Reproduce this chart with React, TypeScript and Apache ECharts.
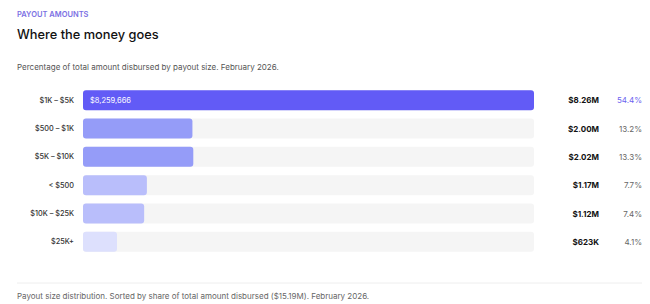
import React, { useEffect, useRef } from "react";
import * as echarts from "echarts";

const categories = ["$1K – $5K", "$500 – $1K", "$5K – $10K", "< $500", "$10K – $25K", "$25K+"];
const amounts = [8259666, 2004000, 2020000, 1170000, 1120000, 623000];
const amountLabels = ["$8.26M", "$2.00M", "$2.02M", "$1.17M", "$1.12M", "$623K"];
const shareLabels = ["54.4%", "13.2%", "13.3%", "7.7%", "7.4%", "4.1%"];
const barColors = ["#625BF6", "#959CF8", "#959CF8", "#B9BEFB", "#B9BEFB", "#DDE0FD"];

const FONT = "Inter, 'Noto Sans', sans-serif";

export default function App() {
  const ref = useRef<HTMLDivElement>(null);
  useEffect(() => {
    if (!ref.current) return;
    const chart = echarts.init(ref.current, null, { renderer: "svg" });
    const maxVal = Math.max(...amounts);
    chart.setOption({
      animation: false,
      backgroundColor: "#ffffff",
      textStyle: { fontFamily: FONT },
      title: [
        {
          text: "PAYOUT AMOUNTS",
          left: 17,
          top: 10,
          padding: 0,
          textStyle: { fontSize: 7.5, fontWeight: 600, color: "#7B6FE3", fontFamily: FONT },
        },
        {
          text: "Where the money goes",
          left: 17,
          top: 28,
          padding: 0,
          textStyle: { fontSize: 12.8, fontWeight: 500, color: "#111111", fontFamily: FONT },
        },
        {
          text: "Percentage of total amount disbursed by payout size. February 2026.",
          left: 17,
          top: 63,
          padding: 0,
          textStyle: { fontSize: 8, fontWeight: 400, color: "#555555", fontFamily: FONT },
        },
        {
          text: "Payout size distribution. Sorted by share of total amount disbursed ($15.19M). February 2026.",
          left: 17,
          top: 292,
          padding: 0,
          textStyle: { fontSize: 8, fontWeight: 400, color: "#666666", fontFamily: FONT },
        },
      ],
      graphic: [
        {
          type: "line",
          shape: { x1: 17, y1: 283, x2: 642, y2: 283 },
          style: { stroke: "#EEEEEE", lineWidth: 1 },
        },
      ],
      grid: { left: 83, right: 116, top: 86, height: 170 },
      xAxis: { type: "value", min: 0, max: maxVal, show: false },
      yAxis: [
        {
          type: "category",
          data: categories,
          inverse: true,
          axisLine: { show: false },
          axisTick: { show: false },
          axisLabel: { margin: 9, fontSize: 7.3, fontWeight: 500, color: "#333333", fontFamily: FONT },
        },
        {
          type: "category",
          data: amountLabels,
          inverse: true,
          position: "right",
          axisLine: { show: false },
          axisTick: { show: false },
          axisLabel: {
            margin: 65,
            align: "right",
            fontSize: 8,
            fontWeight: 700,
            color: "#111111",
            fontFamily: FONT,
          },
        },
        {
          type: "category",
          data: shareLabels,
          inverse: true,
          position: "right",
          axisLine: { show: false },
          axisTick: { show: false },
          axisLabel: {
            margin: 108,
            align: "right",
            fontFamily: FONT,
            formatter: (v: string, i: number) => (i === 0 ? `{a|${v}}` : `{b|${v}}`),
            rich: {
              a: { fontSize: 8, color: "#6C63F0", fontFamily: FONT },
              b: { fontSize: 8, color: "#666666", fontFamily: FONT },
            },
          },
        },
      ],
      series: [
        {
          type: "bar",
          yAxisIndex: 0,
          barWidth: 20,
          showBackground: true,
          backgroundStyle: { color: "#F5F5F5", borderRadius: 3 },
          data: amounts.map((v, i) => ({
            value: v,
            itemStyle: { color: barColors[i], borderRadius: 3 },
            label:
              i === 0
                ? {
                    show: true,
                    position: "insideLeft",
                    distance: 7,
                    formatter: "$" + v.toLocaleString("en-US"),
                    color: "#ffffff",
                    fontSize: 7.5,
                    fontFamily: FONT,
                  }
                : { show: false },
          })),
        },
      ],
    });
    return () => chart.dispose();
  }, []);
  return (
    <div
      ref={ref}
      style={{ position: "absolute", left: 0, top: 0, width: 650, height: 304 }}
    />
  );
}
